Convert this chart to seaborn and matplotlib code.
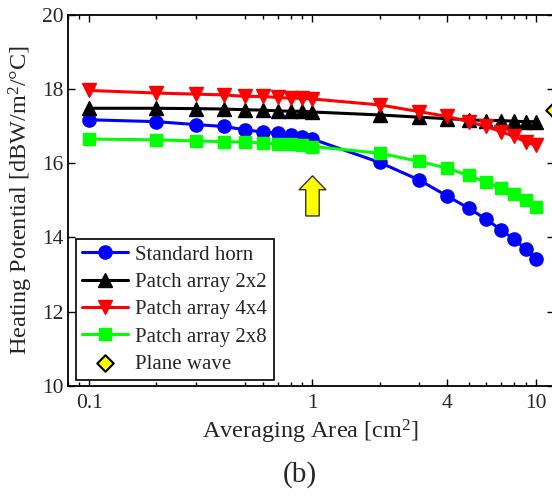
import matplotlib
matplotlib.use("Agg")
import matplotlib.pyplot as plt
import seaborn as sns
from matplotlib.ticker import FixedLocator, NullFormatter, LogLocator

# %%
# data
area = [0.1, 0.2, 0.3, 0.4, 0.5, 0.6, 0.7, 0.8, 0.9, 1, 2, 3, 4, 5, 6, 7, 8, 9, 10]
standard_horn = [17.17, 17.12, 17.04, 16.99, 16.90, 16.84, 16.81, 16.76, 16.70, 16.65,
                 16.02, 15.55, 15.12, 14.79, 14.49, 14.20, 13.95, 13.69, 13.42]
patch_2x2 = [17.48, 17.48, 17.47, 17.46, 17.44, 17.43, 17.41, 17.40, 17.40, 17.38,
             17.30, 17.24, 17.20, 17.17, 17.15, 17.15, 17.13, 17.12, 17.12]
patch_4x4 = [17.96, 17.89, 17.86, 17.84, 17.80, 17.80, 17.77, 17.75, 17.75, 17.73,
             17.57, 17.39, 17.26, 17.12, 16.99, 16.85, 16.72, 16.58, 16.48]
patch_2x8 = [16.65, 16.63, 16.60, 16.58, 16.57, 16.54, 16.52, 16.51, 16.48, 16.45,
             16.27, 16.05, 15.87, 15.67, 15.49, 15.33, 15.17, 15.00, 14.83]
plane_wave_area = [12]
plane_wave = [17.44]

series = [
    ("Standard horn", standard_horn, "#0000ff", "o", 9.5),
    ("Patch array 2x2", patch_2x2, "black", "^", 10.5),
    ("Patch array 4x4", patch_4x4, "#ff0000", "v", 10.5),
    ("Patch array 2x8", patch_2x8, "#00ff00", "s", 8.5),
]

# %%
sns.set_style("ticks")
plt.rcParams["font.family"] = ["Liberation Serif", "DejaVu Serif"]
plt.rcParams["mathtext.fontset"] = "custom"
plt.rcParams["mathtext.rm"] = "Liberation Serif"
plt.rcParams["mathtext.it"] = "Liberation Serif:italic"

fig = plt.figure(figsize=(5.52, 4.98), dpi=100)
ax = fig.add_axes([67.5 / 552, (498 - 386) / 498, (553.5 - 67.5) / 552, (386 - 14.7) / 498])

for name, vals, color, marker, ms in series:
    sns.lineplot(x=area, y=vals, ax=ax, color=color, marker=marker, markersize=ms,
                 markeredgecolor=color, markeredgewidth=1, linewidth=2.2, label=name)

sns.scatterplot(x=plane_wave_area, y=plane_wave, ax=ax, marker="D", s=70,
                color="#ffff00", edgecolor="black", linewidth=1.5, clip_on=False,
                zorder=5, label="Plane wave")

# arrow at 1 cm^2
ax.annotate("", xy=(1, 15.66), xytext=(1, 14.58),
            arrowprops=dict(arrowstyle="simple,head_length=1.0,head_width=1.92,tail_width=0.97",
                            mutation_scale=10, fc="#ffff00", ec="#333333", lw=1,
                            shrinkA=0, shrinkB=0))

ax.set_xscale("log")
ax.set_xlim(0.08, 12)
ax.set_ylim(10, 20)
ax.xaxis.set_major_locator(FixedLocator([0.1, 1, 4, 10]))
ax.set_xticklabels(["0.1", "1", "4", "10"])
ax.xaxis.set_minor_locator(LogLocator(base=10, subs=[2, 3, 5, 6, 7, 8, 9], numticks=10))
ax.xaxis.set_minor_formatter(NullFormatter())
ax.set_yticks([10, 12, 14, 16, 18, 20])
ax.tick_params(which="both", direction="in", top=True, right=True, labelsize=15.5,
               width=1, color="black")
ax.tick_params(which="major", length=5)
ax.tick_params(axis="x", which="major", pad=6)
ax.tick_params(axis="y", which="major", pad=3)
ax.tick_params(which="minor", length=3)
for s in ax.spines.values():
    s.set_linewidth(1.3)
    s.set_color("black")

ax.set_xlabel("Averaging Area [cm$^2$]", fontsize=17.5, labelpad=3)
ax.set_ylabel("Heating Potential [dBW/m$^2$/°C]", fontsize=17.5, labelpad=5)

leg = ax.legend(loc="lower left", bbox_to_anchor=(0.0175, 0.016), borderaxespad=0,
                fontsize=15, frameon=True, fancybox=False, edgecolor="black",
                framealpha=1, handlelength=2.2, handletextpad=0.35, labelspacing=0.37,
                borderpad=0.3)
leg.get_frame().set_linewidth(1.2)

fig.text(299.5 / 552, 1 - 475 / 498, "(b)", fontsize=21, ha="center", va="center")

fig.savefig("out.png", dpi=100)
